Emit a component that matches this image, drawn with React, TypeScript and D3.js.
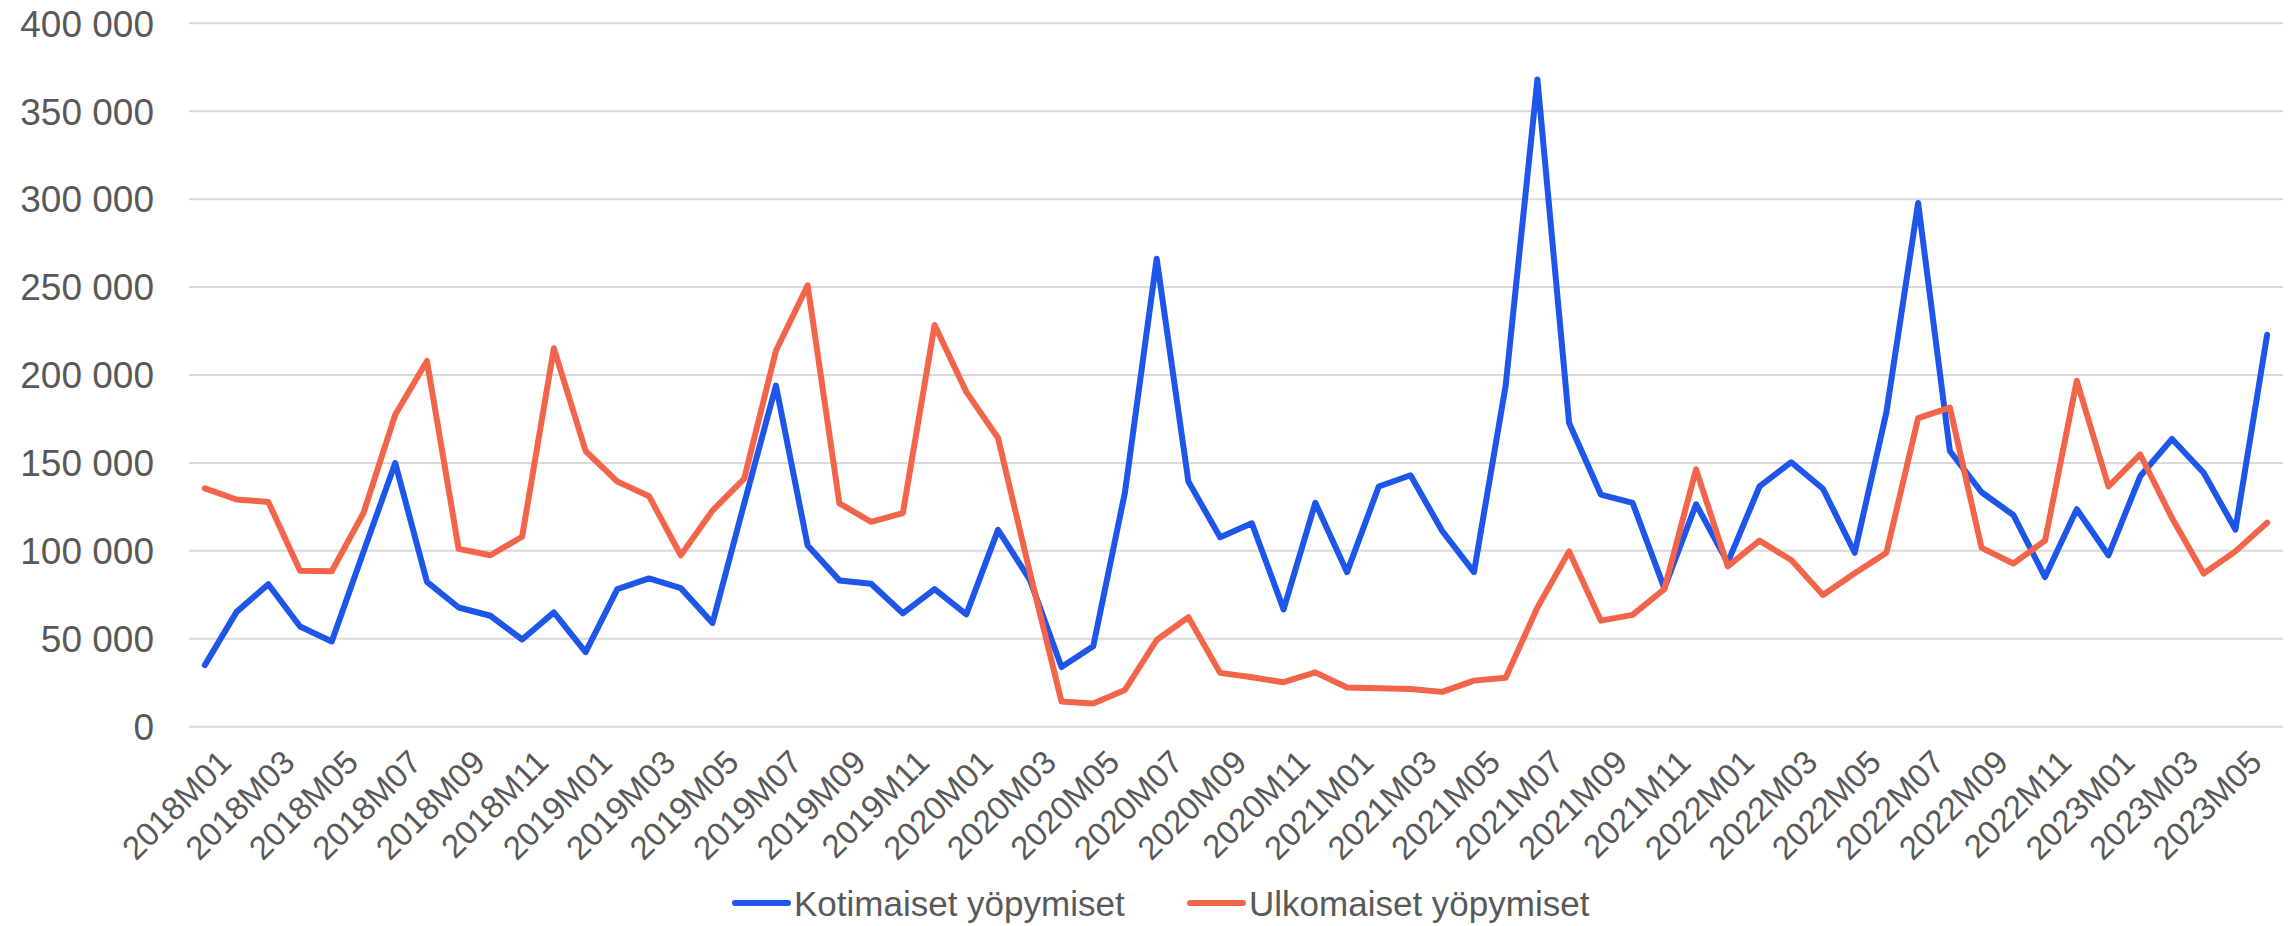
import React from "react";
import * as d3 from "d3";

const years = ["2018", "2019", "2020", "2021", "2022", "2023"];
const months = ["01", "02", "03", "04", "05", "06", "07", "08", "09", "10", "11", "12"];
const categories: string[] = [];
years.forEach((y) => months.forEach((m) => { if (!(y === "2023" && +m > 6)) categories.push(`${y}M${m}`); }));

// thousands of overnight stays
const kotimaiset = [
  35.0, 65.3, 81.0, 57.0, 48.5, 99.5, 149.9, 82.4, 67.8, 63.1, 49.6, 65.0,
  42.4, 78.2, 84.3, 78.8, 59.0, 127.0, 194.0, 103.0, 83.2, 81.3, 64.5, 78.2,
  63.9, 111.9, 83.7, 33.9, 45.7, 133.3, 266.1, 139.4, 107.7, 115.7, 66.7, 127.3,
  87.9, 136.6, 143.0, 111.3, 87.9, 194.0, 368.1, 172.7, 132.0, 127.3, 78.8, 126.5,
  93.4, 136.6, 150.4, 135.3, 98.9, 178.8, 297.8, 156.8, 133.3, 120.4, 85.1, 123.7,
  97.5, 142.4, 163.6, 144.4, 112.1, 222.9,
];
const ulkomaiset = [
  135.5, 129.2, 127.8, 88.7, 88.4, 121.5, 177.4, 208.0, 101.1, 97.5, 108.0, 215.2,
  156.8, 139.4, 131.1, 97.5, 122.9, 141.1, 213.8, 251.0, 127.0, 116.5, 121.5, 228.4,
  190.4, 164.2, 88.0, 14.3, 13.2, 20.9, 49.3, 62.3, 30.6, 28.1, 25.3, 30.9,
  22.3, 21.8, 21.5, 19.8, 26.2, 27.8, 67.8, 99.7, 60.3, 63.6, 78.2, 146.3,
  91.2, 105.8, 94.8, 74.9, 87.3, 98.9, 175.5, 181.5, 101.7, 92.8, 105.8, 196.7,
  136.6, 154.8, 118.7, 87.1, 99.7, 116.0,
];
const yTicks = [0, 50000, 100000, 150000, 200000, 250000, 300000, 350000, 400000];
const seriesNames = ["Kotimaiset yöpymiset", "Ulkomaiset yöpymiset"];
const colors = ["#1F56EA", "#F2654B"];

const W = 2295, H = 926;
const FONT = "'Liberation Sans', Arial, sans-serif";
const TXT = "#595959";

export default function App() {
  React.useEffect(() => {
    document.body.style.margin = "0";
    document.body.style.overflow = "hidden";
  }, []);
  const x = d3.scalePoint<string>().domain(categories).range([189, 2283]).padding(0.5);
  const y = d3.scaleLinear().domain([0, 400000]).range([726.7, 23.3]);
  const fmt = (v: number) => d3.format(",")(v).replace(/,/g, " ");
  const series = [kotimaiset, ulkomaiset];
  const line = d3.line<number>()
    .x((_, i) => x(categories[i]) as number)
    .y((d) => y(d * 1000));

  return (
    <svg width={W} height={H} style={{ position: "absolute", left: 0, top: 0, background: "#fff" }}>
      {yTicks.map((t) => (
        <g key={t}>
          <line x1={189} x2={2283} y1={y(t)} y2={y(t)} stroke="#d9d9d9" strokeWidth={2} />
          <text x={154} y={y(t)} dy="0.36em" textAnchor="end" fontFamily={FONT} fontSize={37} fill={TXT}>
            {fmt(t)}
          </text>
        </g>
      ))}
      {categories.map((c, i) =>
        i % 2 === 0 ? (
          <text key={c} transform={`translate(${(x(c) as number) + 12},${748}) rotate(-45)`} textAnchor="end"
            fontFamily={FONT} fontSize={33} fill={TXT} dy="0.7em">
            {c}
          </text>
        ) : null
      )}
      {series.map((s, k) => (
        <path key={k} d={line(s) || ""} fill="none" stroke={colors[k]} strokeWidth={6}
          strokeLinejoin="round" strokeLinecap="round" />
      ))}
      {seriesNames.map((n, k) => {
        const lx = k === 0 ? 735 : 1190;
        return (
          <g key={n}>
            <line x1={lx} x2={lx + 53} y1={903} y2={903} stroke={colors[k]} strokeWidth={6} strokeLinecap="round" />
            <text x={lx + 59} y={903} dy="0.36em" fontFamily={FONT} fontSize={35} fill={TXT}>{n}</text>
          </g>
        );
      })}
    </svg>
  );
}
